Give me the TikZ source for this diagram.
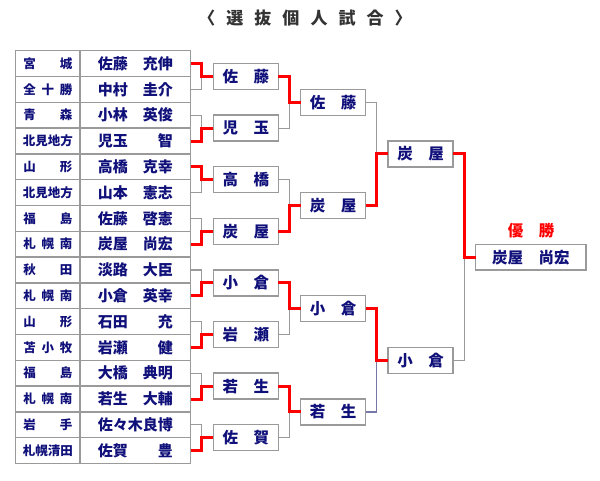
\documentclass[tikz,border=0pt]{standalone}
\usepackage{fontspec}
\setmainfont{Noto Sans CJK JP}
\definecolor{navy}{HTML}{10107A}
\definecolor{lgray}{HTML}{9A9A9A}
\definecolor{wred}{HTML}{FF0000}
\definecolor{slate}{HTML}{7878A8}
\definecolor{titlec}{HTML}{333333}
\tikzset{
  cell/.style={draw=lgray, line width=1.5pt, minimum height=25.8pt, inner sep=0pt, outer sep=0pt, text=navy},
  regcell/.style={cell, minimum width=64.3pt, font=\fontsize{12.5}{12.5}\selectfont\bfseries},
  namecell/.style={cell, minimum width=110.7pt, font=\fontsize{15}{15}\selectfont\bfseries},
  rbox/.style={draw=lgray, line width=1.5pt, minimum width=65pt, minimum height=26pt, inner sep=0pt, outer sep=0pt, text=navy, font=\fontsize{15.5}{15.5}\selectfont\bfseries},
  fbox/.style={rbox, minimum width=110.3pt, minimum height=25.5pt},
  lose/.style={draw=lgray, line width=1.2pt},
  losb/.style={draw=slate, line width=1.2pt},
  win/.style={draw=wred, line width=3pt},
}
\begin{document}
\begin{tikzpicture}[x=1pt,y=-1pt]
\useasboundingbox (0,0) rectangle (600,480);
\node[text=titlec, font=\fontsize{17}{17}\selectfont\bfseries] (title) at (305,18) {\addfontfeature{LetterSpace=65}〈選抜個人試合〉};
% table
\foreach \i/\reg/\nm in {
 1/{宮\hfill 城}/{佐藤　充伸},
 2/{全\hfill 十\hfill 勝}/{中村　圭介},
 3/{青\hfill 森}/{小林　英俊},
 4/{北見地方}/{児玉　　智},
 5/{山\hfill 形}/{高橋　克幸},
 6/{北見地方}/{山本　憲志},
 7/{福\hfill 島}/{佐藤　啓憲},
 8/{札\hfill 幌\hfill 南}/{炭屋　尚宏},
 9/{秋\hfill 田}/{淡路　大臣},
 10/{札\hfill 幌\hfill 南}/{小倉　英幸},
 11/{山\hfill 形}/{石田　　充},
 12/{苫\hfill 小\hfill 牧}/{岩瀬　　健},
 13/{福\hfill 島}/{大橋　典明},
 14/{札\hfill 幌\hfill 南}/{若生　大輔},
 15/{岩\hfill 手}/{佐々木良博},
 16/{札幌清田}/{佐賀　　豊}} {
  \node[regcell] (r\i) at (47.85, 37.8+25.8*\i) {\makebox[49pt]{\reg}};
  \node[namecell] (n\i) at (135.35, 37.8+25.8*\i) {\nm};
}
% round 1 boxes
\foreach \p/\lab in {1/{佐　藤},2/{児　玉},3/{高　橋},4/{炭　屋},5/{小　倉},6/{岩　瀬},7/{若　生},8/{佐　賀}} {
  \node[rbox] (m\p) at (245.8, 24.9+51.6*\p) {\lab};
}
% round 2 boxes
\foreach \q/\lab in {1/{佐　藤},2/{炭　屋},3/{小　倉},4/{若　生}} {
  \node[rbox] (k\q) at (333.2, -0.9+103.2*\q) {\lab};
}
% round 3 boxes
\node[rbox] (s1) at (420.5,153.9) {炭　屋};
\node[rbox] (s2) at (420.5,360.3) {小　倉};
% final
\node[fbox] (f) at (530.8,257.3) {炭屋　尚宏};
\node[text=wred, font=\fontsize{15.5}{15.5}\selectfont\bfseries] (champ) at (531,230.7) {優　勝};
% round 1 connectors
\foreach \w/\l/\p in {1/2/1,4/3/2,5/6/3,8/7/4,10/9/5,12/11/6,14/13/7,16/15/8} {
  \draw[lose] (n\l.east) -- ([xshift=11pt]n\l.east) |- (m\p.west);
  \draw[win] (n\w.east) -- ([xshift=11pt]n\w.east) |- (m\p.west);
}
% round 2 connectors
\foreach \w/\l/\q in {1/2/1,4/3/2,5/6/3,7/8/4} {
  \draw[lose] (m\l.east) -- ([xshift=11pt]m\l.east) |- (k\q.west);
  \draw[win] (m\w.east) -- ([xshift=11pt]m\w.east) |- (k\q.west);
}
% round 3 connectors
\draw[lose] (k1.east) -- ([xshift=11pt]k1.east) |- (s1.west);
\draw[win] (k2.east) -- ([xshift=11pt]k2.east) |- (s1.west);
\draw[losb] (k4.east) -- ([xshift=11pt]k4.east) |- (s2.west);
\draw[win] (k3.east) -- ([xshift=11pt]k3.east) |- (s2.west);
% final connectors
\draw[lose] (s2.east) -- ([xshift=11.6pt]s2.east) |- (f.west);
\draw[win] (s1.east) -- ([xshift=11.6pt]s1.east) |- (f.west);
\end{tikzpicture}
\end{document}
